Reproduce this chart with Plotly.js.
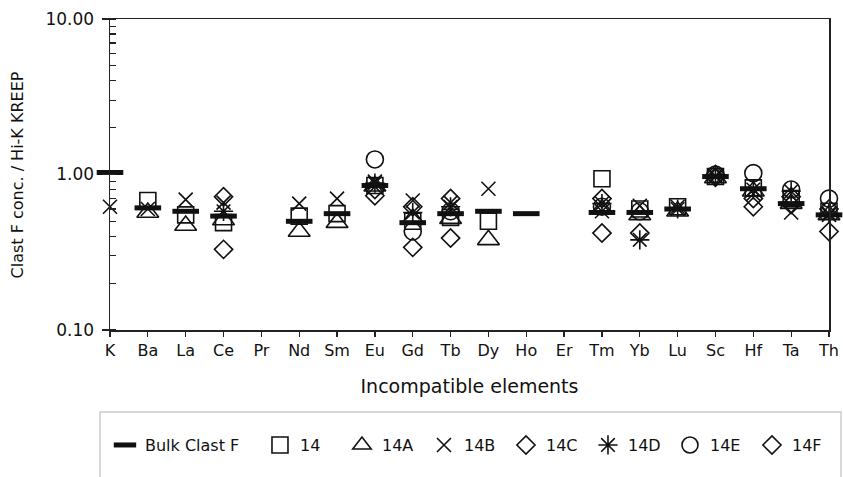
<!DOCTYPE html>
<html>
<head>
<meta charset="utf-8">
<script src="https://cdn.plot.ly/plotly-3.0.1.min.js"></script>
<style>
  html, body { margin: 0; padding: 0; background: #fff; }
  #chart { width: 843px; height: 477px; }
</style>
</head>
<body>
<div id="chart"></div>
<script>
const categories = ['K','Ba','La','Ce','Pr','Nd','Sm','Eu','Gd','Tb','Dy','Ho','Er','Tm','Yb','Lu','Sc','Hf','Ta','Th'];

const bulkClastF = [1.03, 0.61, 0.58, 0.54, null, 0.50, 0.56, 0.85, 0.49, 0.56, 0.58, 0.56, null, 0.57, 0.57, 0.60, 0.97, 0.81, 0.65, 0.55];
const s14  = [null, 0.68, 0.55, 0.49, null, 0.54, 0.56, 0.85, 0.50, 0.53, 0.50, null, null, 0.94, 0.60, 0.62, 0.97, 0.82, 0.70, 0.58];
const s14A = [null, 0.57, 0.47, 0.51, null, 0.43, 0.49, 0.84, 0.52, 0.52, 0.38, null, null, 0.60, 0.55, 0.58, 0.95, 0.78, 0.65, 0.55];
const s14B = [0.62, 0.60, 0.69, 0.66, null, 0.65, 0.70, 0.90, 0.68, 0.66, 0.81, null, null, 0.58, 0.63, 0.62, 0.98, 0.75, 0.57, 0.55];
const s14C = [null, null, null, 0.72, null, null, null, 0.73, 0.62, 0.70, null, null, null, 0.70, 0.42, null, 1.00, 0.62, 0.72, 0.60];
const s14D = [null, null, null, 0.58, null, null, null, 0.88, 0.57, 0.62, null, null, null, 0.65, 0.38, 0.60, 0.97, 0.80, 0.78, 0.56];
const s14E = [null, null, null, null, null, null, null, 1.25, 0.43, 0.58, null, null, null, 0.62, 0.58, null, 1.00, 1.02, 0.80, 0.70];
const s14F = [null, null, null, 0.33, null, null, null, 0.80, 0.34, 0.39, null, null, null, 0.42, null, null, 0.96, 0.70, 0.64, 0.43];

const seriesNames = ['Bulk Clast F', '14', '14A', '14B', '14C', '14D', '14E', '14F'];
const seriesValues = [bulkClastF, s14, s14A, s14B, s14C, s14D, s14E, s14F];
const seriesSymbols = ['line-ew-open', 'square-open', 'triangle-up-open', 'x-thin-open', 'diamond-open', 'asterisk-open', 'circle-open', 'diamond-open'];
const seriesSizes = [19, 16, 19, 14, 14, 16, 17, 14];
const seriesLineWidths = [5, 1.6, 1.6, 1.6, 1.6, 1.6, 1.6, 1.6];

const yTitle = 'Clast F conc. / Hi-K KREEP';
const xTitle = 'Incompatible elements';

const ink = '#111111';
const FONT = 'DejaVu Sans, Liberation Sans, Arial, sans-serif';

const traces = seriesNames.map((name, i) => ({
  type: 'scatter',
  mode: 'markers',
  name: name,
  legend: i === 0 ? 'legend' : 'legend2',
  x: categories,
  y: seriesValues[i],
  cliponaxis: false,
  marker: {
    symbol: seriesSymbols[i],
    size: seriesSizes[i],
    color: ink,
    line: { color: ink, width: seriesLineWidths[i] }
  }
}));

const legendCommon = {
  orientation: 'h',
  xanchor: 'left',
  y: -0.37,
  yanchor: 'middle',
  bgcolor: 'rgba(0,0,0,0)',
  borderwidth: 0,
  font: { family: FONT, size: 16, color: '#111' },
  itemwidth: 30
};

const layout = {
  width: 843,
  height: 477,
  margin: { l: 110, r: 14, t: 19, b: 147, autoexpand: false },
  paper_bgcolor: '#ffffff',
  plot_bgcolor: '#ffffff',
  font: { family: FONT, color: '#111', size: 14 },
  showlegend: true,
  xaxis: {
    type: 'category',
    categoryorder: 'array',
    categoryarray: categories,
    range: [0, 19],
    showgrid: false,
    zeroline: false,
    showline: true,
    linecolor: '#222',
    linewidth: 1.5,
    mirror: true,
    ticks: 'outside',
    ticklen: 5,
    tickwidth: 1.3,
    tickcolor: '#222',
    tickfont: { family: FONT, size: 16, color: '#111' },
    title: { text: xTitle, font: { family: FONT, size: 19, color: '#111' }, standoff: 21 }
  },
  yaxis: {
    type: 'log',
    range: [-1, 1],
    dtick: 1,
    tickformat: '.2f',
    showgrid: false,
    zeroline: false,
    showline: true,
    linecolor: '#222',
    linewidth: 1.5,
    mirror: true,
    ticks: 'outside',
    ticklen: 7,
    tickwidth: 1.3,
    tickcolor: '#222',
    ticklabelstandoff: 4,
    tickfont: { family: FONT, size: 17, color: '#111' },
    minor: { ticks: 'inside', ticklen: 6, tickwidth: 1.2, tickcolor: '#222', dtick: 'D1', showgrid: false }
  },
  annotations: [{
    text: yTitle,
    xref: 'paper', yref: 'paper',
    x: -0.128, y: 0.5,
    xanchor: 'center', yanchor: 'middle',
    textangle: -90,
    showarrow: false,
    font: { family: FONT, size: 16, color: '#111' }
  }],
  legend: Object.assign({}, legendCommon, { x: -0.007 }),
  legend2: Object.assign({}, legendCommon, { xref: 'container', x: 0.3084, entrywidth: 37, entrywidthmode: 'pixels' }),
  shapes: [{
    type: 'rect',
    xref: 'paper', yref: 'paper',
    x0: -0.0139, x1: 1.0167,
    y0: -0.264, y1: -0.52,
    line: { color: '#cccccc', width: 1.5 },
    fillcolor: 'rgba(0,0,0,0)',
    layer: 'below'
  }]
};

Plotly.newPlot('chart', traces, layout, { displayModeBar: false, staticPlot: true });
</script>
</body>
</html>
